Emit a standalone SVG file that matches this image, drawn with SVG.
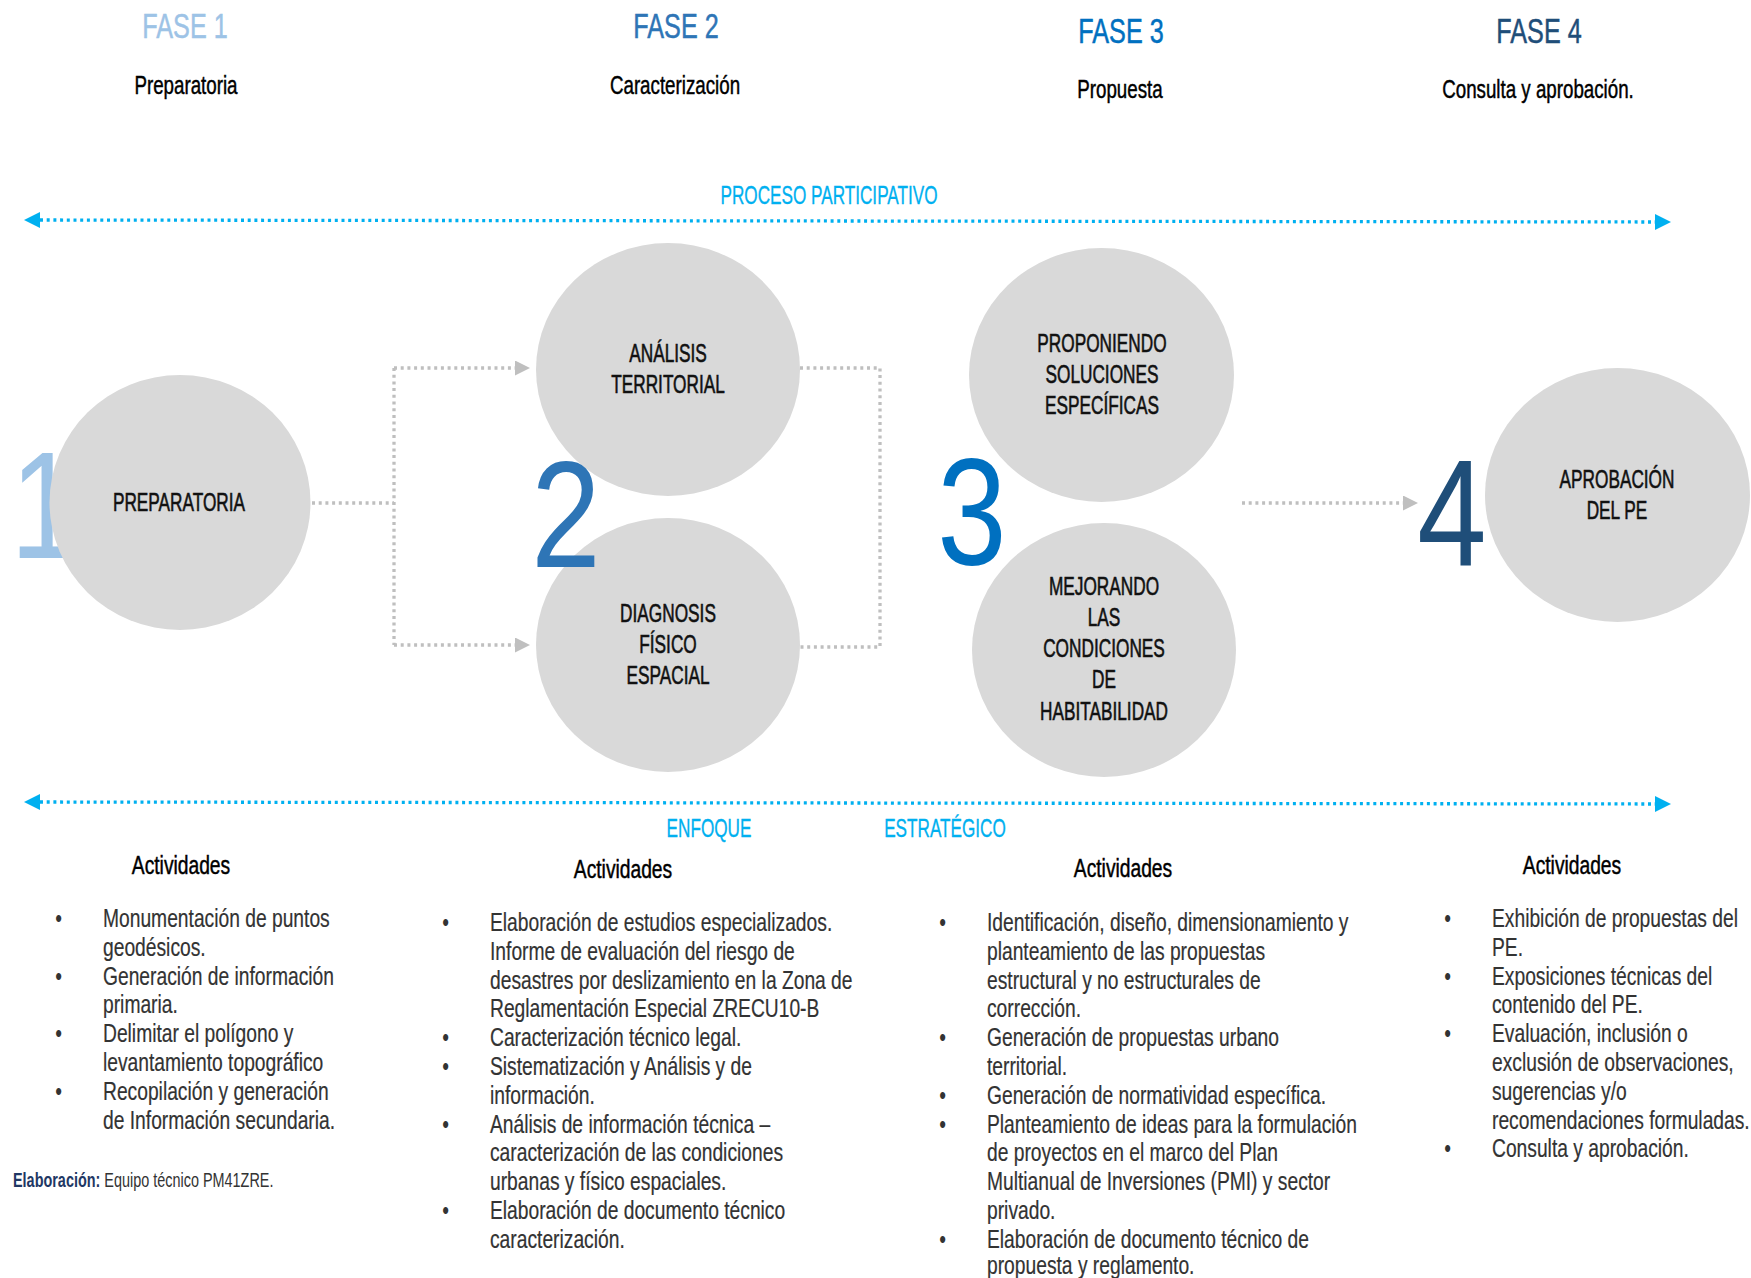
<svg xmlns="http://www.w3.org/2000/svg" width="1751" height="1278" viewBox="0 0 1751 1278">
  <defs>
    <style>
      text { font-family: "Liberation Sans", Arial, sans-serif; }
      .fase { font-size: 36px; text-anchor: middle; stroke-width: 0.5; }
      .sub { font-size: 25px; fill: #000; stroke: #000; stroke-width: 0.45; text-anchor: middle; }
      .lbl { font-size: 25px; fill: #111; stroke: #111; stroke-width: 0.6; text-anchor: middle; }
      .band-lbl { font-size: 26px; fill: #00B0F0; stroke: #00B0F0; stroke-width: 0.35; text-anchor: middle; }
      .num { font-size: 152px; text-anchor: middle; }
      .head { font-size: 25px; fill: #000; stroke: #000; stroke-width: 0.45; text-anchor: middle; }
      .body { font-size: 25px; fill: #333; stroke: #333; stroke-width: 0.2; }
      .bul { font-size: 25px; fill: #333; text-anchor: middle; }
      .credit { font-size: 19.5px; fill: #333; }
      .bubble { fill: #D9D9D9; }
      .flow { fill: none; stroke: #BFBFBF; stroke-width: 3.3; stroke-dasharray: 3 3.7; }
      .band { fill: none; stroke: #00B0F0; stroke-width: 3.3; stroke-dasharray: 3 3.7; }
    </style>
    <marker id="cyanHead" markerUnits="userSpaceOnUse" markerWidth="16" markerHeight="16" refX="0" refY="8" orient="auto-start-reverse">
      <path d="M0,0 L16,8 L0,16 Z" fill="#00B0F0"/>
    </marker>
    <marker id="grayHead" markerUnits="userSpaceOnUse" markerWidth="15" markerHeight="15" refX="0" refY="7.5" orient="auto">
      <path d="M0,0 L15,7.5 L0,15 Z" fill="#BFBFBF"/>
    </marker>
  </defs>

  <rect width="1751" height="1278" fill="#fff"/>

  <!-- phase headings -->
  <g id="fase-1">
    <text class="fase" fill="#9DC3E6" stroke="#9DC3E6" transform="translate(185 38) scale(.7 1)">FASE 1</text>
    <text class="sub" transform="translate(186 94) scale(.75 1)">Preparatoria</text>
  </g>
  <g id="fase-2">
    <text class="fase" fill="#2E75B6" stroke="#2E75B6" transform="translate(676 38) scale(.7 1)">FASE 2</text>
    <text class="sub" transform="translate(675 94) scale(.75 1)">Caracterización</text>
  </g>
  <g id="fase-3">
    <text class="fase" fill="#0070C0" stroke="#0070C0" transform="translate(1121 43) scale(.7 1)">FASE 3</text>
    <text class="sub" transform="translate(1120 98) scale(.75 1)">Propuesta</text>
  </g>
  <g id="fase-4">
    <text class="fase" fill="#1F4E79" stroke="#1F4E79" transform="translate(1539 43) scale(.7 1)">FASE 4</text>
    <text class="sub" transform="translate(1538 98) scale(.75 1)">Consulta y aprobación.</text>
  </g>

  <!-- connectors -->
  <g id="connectors">
    <path class="band" d="M40,220 L1655,222" marker-start="url(#cyanHead)" marker-end="url(#cyanHead)"/>
    <path class="band" d="M40,802 L1655,804" marker-start="url(#cyanHead)" marker-end="url(#cyanHead)"/>
    <path class="flow" d="M312,503 H394"/>
    <path class="flow" d="M394,368 V645"/>
    <path class="flow" d="M394,368 H515" marker-end="url(#grayHead)"/>
    <path class="flow" d="M394,645 H515" marker-end="url(#grayHead)"/>
    <path class="flow" d="M800,368 H880 V647 H800"/>
    <path class="flow" d="M1242,503 H1403" marker-end="url(#grayHead)"/>
  </g>

  <g id="band-labels">
    <text class="band-lbl" transform="translate(829 204) scale(.66 1)">PROCESO PARTICIPATIVO</text>
    <text class="band-lbl" transform="translate(709 837) scale(.66 1)">ENFOQUE</text>
    <text class="band-lbl" transform="translate(945 837) scale(.66 1)">ESTRATÉGICO</text>
  </g>

  <!-- step 1 -->
  <g id="node-preparatoria">
    <text class="num" fill="#9DC3E6" transform="translate(45 558) scale(.82 1)">1</text>
    <ellipse class="bubble" cx="180" cy="502.5" rx="130.5" ry="127.5"/>
    <text class="lbl" transform="translate(179 511) scale(.69 1)">PREPARATORIA</text>
  </g>

  <!-- step 2 -->
  <g id="node-analisis">
    <ellipse class="bubble" cx="668" cy="369.5" rx="132" ry="126.5"/>
    <g transform="translate(668 0) scale(.69 1)">
      <text class="lbl"><tspan x="0" y="362">ANÁLISIS</tspan><tspan x="0" y="393">TERRITORIAL</tspan></text>
    </g>
  </g>
  <g id="node-diagnosis">
    <ellipse class="bubble" cx="668" cy="645" rx="132" ry="127"/>
    <g transform="translate(668 0) scale(.69 1)">
      <text class="lbl"><tspan x="0" y="622">DIAGNOSIS</tspan><tspan x="0" y="653">FÍSICO</tspan><tspan x="0" y="684">ESPACIAL</tspan></text>
    </g>
  </g>
  <text id="num-2" class="num" fill="#2E75B6" transform="translate(566 567) scale(.82 1)">2</text>

  <!-- step 3 -->
  <g id="node-proponiendo">
    <ellipse class="bubble" cx="1101.5" cy="375" rx="132.5" ry="127"/>
    <g transform="translate(1102 0) scale(.69 1)">
      <text class="lbl"><tspan x="0" y="352">PROPONIENDO</tspan><tspan x="0" y="383">SOLUCIONES</tspan><tspan x="0" y="414">ESPECÍFICAS</tspan></text>
    </g>
  </g>
  <g id="node-mejorando">
    <ellipse class="bubble" cx="1104" cy="650" rx="132" ry="127"/>
    <g transform="translate(1104 0) scale(.69 1)">
      <text class="lbl"><tspan x="0" y="595">MEJORANDO</tspan><tspan x="0" y="626">LAS</tspan><tspan x="0" y="657">CONDICIONES</tspan><tspan x="0" y="688">DE</tspan><tspan x="0" y="720">HABITABILIDAD</tspan></text>
    </g>
  </g>
  <text id="num-3" class="num" fill="#0070C0" transform="translate(972 565) scale(.82 1)">3</text>

  <!-- step 4 -->
  <g id="node-aprobacion">
    <ellipse class="bubble" cx="1617.5" cy="495" rx="132.5" ry="127"/>
    <g transform="translate(1617 0) scale(.69 1)">
      <text class="lbl"><tspan x="0" y="488">APROBACIÓN</tspan><tspan x="0" y="519">DEL PE</tspan></text>
    </g>
  </g>
  <text id="num-4" class="num" fill="#1F4E79" transform="translate(1452 566) scale(.82 1)">4</text>

  <!-- activity lists -->
  <g id="actividades-1">
    <text class="head" transform="translate(181 874) scale(.77 1)">Actividades</text>
    <g transform="translate(103 0) scale(.77 1)">
      <text class="bul"><tspan x="-57.5" y="927">•</tspan><tspan x="-57.5" y="984.6">•</tspan><tspan x="-57.5" y="1042.2">•</tspan><tspan x="-57.5" y="1099.8">•</tspan></text>
      <text class="body">
        <tspan x="0" y="927">Monumentación de puntos</tspan>
        <tspan x="0" y="955.8">geodésicos.</tspan>
        <tspan x="0" y="984.6">Generación de información</tspan>
        <tspan x="0" y="1013.4">primaria.</tspan>
        <tspan x="0" y="1042.2">Delimitar el polígono y</tspan>
        <tspan x="0" y="1071">levantamiento topográfico</tspan>
        <tspan x="0" y="1099.8">Recopilación y generación</tspan>
        <tspan x="0" y="1128.6">de Información secundaria.</tspan>
      </text>
    </g>
  </g>

  <g id="actividades-2">
    <text class="head" transform="translate(623 878) scale(.77 1)">Actividades</text>
    <g transform="translate(490 0) scale(.77 1)">
      <text class="bul"><tspan x="-57.5" y="931">•</tspan><tspan x="-57.5" y="1046.2">•</tspan><tspan x="-57.5" y="1075">•</tspan><tspan x="-57.5" y="1132.6">•</tspan><tspan x="-57.5" y="1219">•</tspan></text>
      <text class="body">
        <tspan x="0" y="931">Elaboración de estudios especializados.</tspan>
        <tspan x="0" y="959.8">Informe de evaluación del riesgo de</tspan>
        <tspan x="0" y="988.6">desastres por deslizamiento en la Zona de</tspan>
        <tspan x="0" y="1017.4">Reglamentación Especial ZRECU10-B</tspan>
        <tspan x="0" y="1046.2">Caracterización técnico legal.</tspan>
        <tspan x="0" y="1075">Sistematización y Análisis y de</tspan>
        <tspan x="0" y="1103.8">información.</tspan>
        <tspan x="0" y="1132.6">Análisis de información técnica –</tspan>
        <tspan x="0" y="1161.4">caracterización de las condiciones</tspan>
        <tspan x="0" y="1190.2">urbanas y físico espaciales.</tspan>
        <tspan x="0" y="1219">Elaboración de documento técnico</tspan>
        <tspan x="0" y="1247.8">caracterización.</tspan>
      </text>
    </g>
  </g>

  <g id="actividades-3">
    <text class="head" transform="translate(1123 877) scale(.77 1)">Actividades</text>
    <g transform="translate(987 0) scale(.77 1)">
      <text class="bul"><tspan x="-57.5" y="931">•</tspan><tspan x="-57.5" y="1046.2">•</tspan><tspan x="-57.5" y="1103.8">•</tspan><tspan x="-57.5" y="1132.6">•</tspan><tspan x="-57.5" y="1247.8">•</tspan></text>
      <text class="body">
        <tspan x="0" y="931">Identificación, diseño, dimensionamiento y</tspan>
        <tspan x="0" y="959.8">planteamiento de las propuestas</tspan>
        <tspan x="0" y="988.6">estructural y no estructurales de</tspan>
        <tspan x="0" y="1017.4">corrección.</tspan>
        <tspan x="0" y="1046.2">Generación de propuestas urbano</tspan>
        <tspan x="0" y="1075">territorial.</tspan>
        <tspan x="0" y="1103.8">Generación de normatividad específica.</tspan>
        <tspan x="0" y="1132.6">Planteamiento de ideas para la formulación</tspan>
        <tspan x="0" y="1161.4">de proyectos en el marco del Plan</tspan>
        <tspan x="0" y="1190.2">Multianual de Inversiones (PMI) y sector</tspan>
        <tspan x="0" y="1219">privado.</tspan>
        <tspan x="0" y="1247.8">Elaboración de documento técnico de</tspan>
        <tspan x="0" y="1274">propuesta y reglamento.</tspan>
      </text>
    </g>
  </g>

  <g id="actividades-4">
    <text class="head" transform="translate(1572 874) scale(.77 1)">Actividades</text>
    <g transform="translate(1492 0) scale(.77 1)">
      <text class="bul"><tspan x="-57.5" y="927">•</tspan><tspan x="-57.5" y="984.6">•</tspan><tspan x="-57.5" y="1042.2">•</tspan><tspan x="-57.5" y="1157.4">•</tspan></text>
      <text class="body">
        <tspan x="0" y="927">Exhibición de propuestas del</tspan>
        <tspan x="0" y="955.8">PE.</tspan>
        <tspan x="0" y="984.6">Exposiciones técnicas del</tspan>
        <tspan x="0" y="1013.4">contenido del PE.</tspan>
        <tspan x="0" y="1042.2">Evaluación, inclusión o</tspan>
        <tspan x="0" y="1071">exclusión de observaciones,</tspan>
        <tspan x="0" y="1099.8">sugerencias y/o</tspan>
        <tspan x="0" y="1128.6">recomendaciones formuladas.</tspan>
        <tspan x="0" y="1157.4">Consulta y aprobación.</tspan>
      </text>
    </g>
  </g>

  <!-- credit line -->
  <text id="credit" class="credit" transform="translate(13 1187) scale(.74 1)"><tspan font-weight="bold" fill="#1F3864">Elaboración:</tspan> Equipo técnico PM41ZRE.</text>
</svg>
